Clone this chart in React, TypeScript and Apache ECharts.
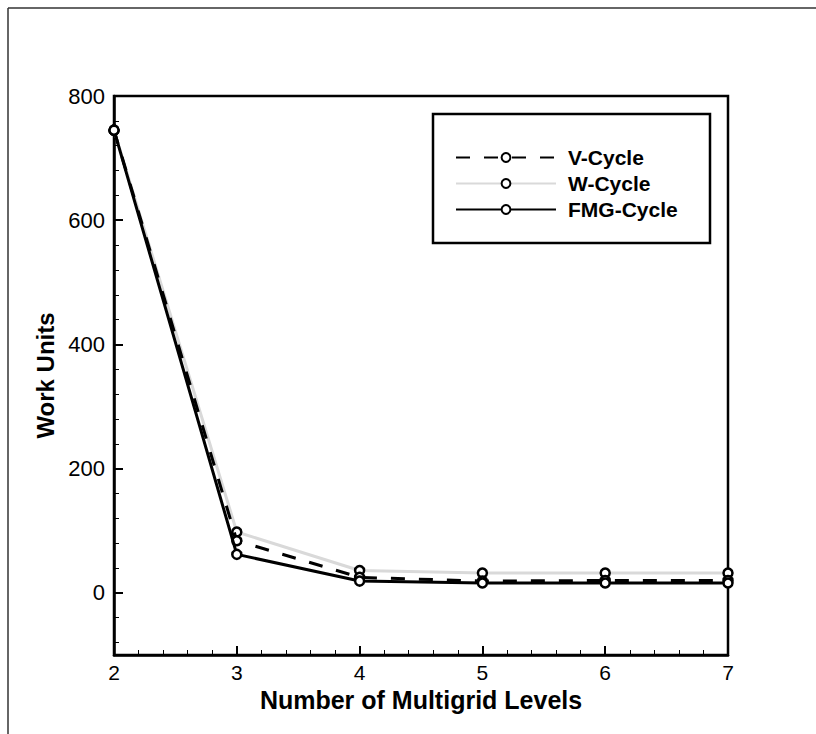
import React, { useEffect, useRef } from "react";
import * as echarts from "echarts";

const levels = [2, 3, 4, 5, 6, 7];
const vCycle = [745, 84, 25, 19, 20, 20];
const wCycle = [745, 98, 36, 32, 32, 32];
const fmgCycle = [745, 62, 19, 16, 16, 16];
const seriesNames = ["V-Cycle", "W-Cycle", "FMG-Cycle"];
const yMajorTicks = [0, 200, 400, 600, 800];
const yMinorTicks = [-80, -40, 40, 80, 120, 160, 240, 280, 320, 360, 440, 480, 520, 560, 640, 680, 720, 760];

const FONT = "Liberation Sans, Arial, sans-serif";

export default function App() {
  const ref = useRef<HTMLDivElement>(null);
  useEffect(() => {
    if (!ref.current) return;
    const chart = echarts.init(ref.current, null, { renderer: "svg" });
    const pts = (ys: number[]) => levels.map((x, i) => [x, ys[i]]);
    const marker = {
      symbol: "circle",
      symbolSize: 9,
      showSymbol: true,
      itemStyle: { color: "#ffffff", borderColor: "#000000", borderWidth: 2.5 },
    };
    chart.setOption({
      animation: false,
      backgroundColor: "#ffffff",
      grid: {
        left: 114,
        top: 96,
        right: 88,
        bottom: 79,
        show: true,
        borderColor: "#000",
        borderWidth: 2.5,
        backgroundColor: "transparent",
      },
      legend: {
        data: seriesNames,
        orient: "vertical",
        left: 455,
        top: 147,
        padding: 0,
        itemWidth: 100,
        itemHeight: 11,
        itemGap: 5,
        textStyle: {
          fontFamily: FONT,
          fontWeight: "bold",
          fontSize: 21,
          color: "#000",
          padding: [0, 0, 0, 7],
        },
      },
      xAxis: {
        type: "value",
        min: 2,
        max: 7,
        interval: 1,
        name: "Number of Multigrid Levels",
        nameLocation: "middle",
        nameGap: 25,
        nameTextStyle: { fontFamily: FONT, fontWeight: "bold", fontSize: 25, color: "#000" },
        axisLine: { show: true, onZero: false, lineStyle: { color: "#000", width: 2.5 } },
        axisTick: { show: true, inside: true, length: 9, lineStyle: { color: "#000", width: 2 } },
        minorTick: { show: true, splitNumber: 5, length: 5, lineStyle: { color: "#000", width: 1 } },
        axisLabel: { fontFamily: FONT, fontSize: 21, color: "#000", margin: 7 },
        splitLine: { show: false },
      },
      yAxis: [
        {
          type: "value",
          min: -100,
          max: 800,
          name: "Work Units",
          nameLocation: "middle",
          nameRotate: 90,
          nameGap: 57,
          nameTextStyle: { fontFamily: FONT, fontWeight: "bold", fontSize: 24, color: "#000" },
          axisLine: { show: true, onZero: false, lineStyle: { color: "#000", width: 2.5 } },
          axisTick: {
            show: true,
            inside: true,
            length: 9,
            customValues: yMajorTicks,
            lineStyle: { color: "#000", width: 2 },
          },
          axisLabel: {
            fontFamily: FONT,
            fontSize: 22,
            color: "#000",
            margin: 9,
            customValues: yMajorTicks,
          },
          splitLine: { show: false },
        },
        {
          type: "value",
          min: -100,
          max: 800,
          position: "left",
          axisLine: { show: false, onZero: false },
          axisTick: {
            show: true,
            inside: true,
            length: 5,
            customValues: yMinorTicks,
            lineStyle: { color: "#000", width: 1 },
          },
          axisLabel: { show: false },
          splitLine: { show: false },
        },
      ],
      graphic: [
        { type: "line", shape: { x1: 8, y1: 8, x2: 8, y2: 734 }, style: { stroke: "#333", lineWidth: 1.5 } },
        { type: "line", shape: { x1: 8, y1: 8, x2: 816, y2: 8 }, style: { stroke: "#333", lineWidth: 1.5 } },
        {
          type: "rect",
          shape: { x: 433, y: 114, width: 277, height: 129 },
          style: { fill: "transparent", stroke: "#000", lineWidth: 2.5 },
          z: 10,
        },
      ],
      series: [
        {
          name: "W-Cycle",
          type: "line",
          data: pts(wCycle),
          ...marker,
          lineStyle: { color: "#d9d9d9", width: 3, type: "solid" },
          z: 2,
        },
        {
          name: "V-Cycle",
          type: "line",
          data: pts(vCycle),
          ...marker,
          lineStyle: { color: "#000", width: 3, type: [14, 14] },
          z: 3,
        },
        {
          name: "FMG-Cycle",
          type: "line",
          data: pts(fmgCycle),
          ...marker,
          lineStyle: { color: "#000", width: 3, type: "solid" },
          z: 4,
        },
      ],
    });
    return () => chart.dispose();
  }, []);
  return (
    <div
      ref={ref}
      style={{ position: "absolute", left: 0, top: 0, width: 816, height: 734, background: "#fff" }}
    />
  );
}
